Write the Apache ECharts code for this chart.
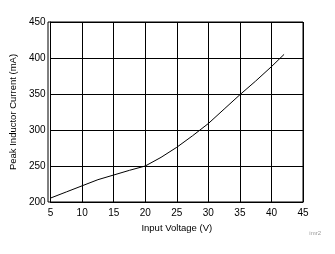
<!DOCTYPE html>
<html>
<head>
<meta charset="utf-8">
<script src="https://cdn.jsdelivr.net/npm/echarts@6/dist/echarts.min.js"></script>
<style>html,body{margin:0;padding:0;background:#fff}#c{width:335px;height:254px}</style>
</head>
<body>
<div id="c"></div>
<script>
var inputVoltage = [5, 7.5, 10, 12.5, 15, 17.5, 20, 22.5, 25, 27.5, 30, 32.5, 35, 37.5, 40, 42];
var peakCurrent = [205.5, 214, 222.5, 231, 237.5, 244, 250, 262, 276, 292, 309, 329, 349, 368, 388, 405];
var xName = 'Input Voltage (V)';
var yName = 'Peak Inductor Current (mA)';
var note = 'imr2';

var chart = echarts.init(document.getElementById('c'), null, {renderer: 'canvas'});
var font = 'Liberation Sans, Arial, sans-serif';
chart.setOption({
  animation: false,
  backgroundColor: '#fff',
  grid: {left: 48, right: 32, top: 22, bottom: 52, show: false},
  xAxis: {
    type: 'value', min: 5, max: 45, interval: 5,
    name: xName, nameLocation: 'middle', nameGap: 19,
    nameTextStyle: {color: '#000', fontSize: 9.5, fontFamily: font},
    axisLine: {show: true, lineStyle: {color: '#000', width: 1}},
    axisTick: {show: false},
    axisLabel: {color: '#000', fontSize: 10, fontFamily: font, margin: 6},
    splitLine: {show: true, lineStyle: {color: '#000', width: 1}}
  },
  yAxis: {
    type: 'value', min: 200, max: 450, interval: 50,
    name: yName, nameLocation: 'middle', nameGap: 27,
    nameTextStyle: {color: '#000', fontSize: 9.5, fontFamily: font},
    axisLine: {show: true, lineStyle: {color: '#000', width: 1}},
    axisTick: {show: false},
    axisLabel: {color: '#000', fontSize: 10, fontFamily: font, margin: 5},
    splitLine: {show: true, lineStyle: {color: '#000', width: 1}}
  },
  series: [{
    type: 'line',
    data: inputVoltage.map(function (v, i) { return [v, peakCurrent[i]]; }),
    showSymbol: false,
    lineStyle: {color: '#000', width: 1},
    z: 5
  }],
  graphic: [{
    type: 'text', right: 14, top: 230,
    style: {text: note, fill: '#999', fontSize: 6, fontFamily: font}
  }, {
    type: 'rect', shape: {x: 48, y: 22, width: 255, height: 180},
    style: {fill: 'none', stroke: '#000', lineWidth: 1}, silent: true
  }]
});
</script>
</body>
</html>
